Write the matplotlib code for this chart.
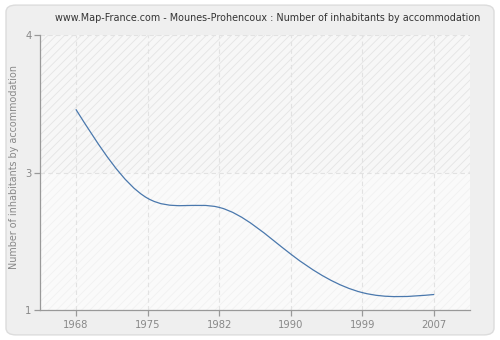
import numpy as np
import matplotlib
matplotlib.use("Agg")
import matplotlib.pyplot as plt
from matplotlib.path import Path
from matplotlib.patches import PathPatch, FancyBboxPatch

# data
years = ["1968", "1975", "1982", "1990", "1999", "2007"]
values = [3.19, 2.22, 2.12, 1.61, 1.19, 1.17]
ytick_pos = [1, 2.5, 4]
ytick_labels = ["1", "3", "4"]

title = "www.Map-France.com - Mounes-Prohencoux : Number of inhabitants by accommodation"
ylabel = "Number of inhabitants by accommodation"

plt.rcParams["hatch.linewidth"] = 0.6

fig = plt.figure(figsize=(5, 3.4), dpi=100)
fig.patch.set_facecolor("white")

# rounded grey panel behind everything
panel = FancyBboxPatch((0.012, 0.015), 0.976, 0.97, boxstyle="round,pad=0,rounding_size=0.02",
                       transform=fig.transFigure, facecolor="#efefef", edgecolor="#dcdcdc",
                       linewidth=1, zorder=-10)
fig.patches.append(panel)

ax = fig.add_axes([0.08, 0.088, 0.86, 0.809])
ax.set_facecolor("#fbfbfb")

x = np.arange(len(years))
y = np.array(values)

# hatched background, stronger above the middle grid line
ax.axhspan(ytick_pos[0], ytick_pos[1], facecolor="#fafafa", hatch="////",
           edgecolor="#f1f1f1", linewidth=0, zorder=0)
ax.axhspan(ytick_pos[1], ytick_pos[2], facecolor="#f7f7f7", hatch="////",
           edgecolor="#e4e4e4", linewidth=0, zorder=0)

# smooth line: natural cubic spline tangents, drawn as bezier segments
n = len(x)
A = np.zeros((n, n)); b = np.zeros(n)
A[0, 0], A[0, 1], b[0] = 2, 1, 3 * (y[1] - y[0])
A[-1, -2], A[-1, -1], b[-1] = 1, 2, 3 * (y[-1] - y[-2])
for i in range(1, n - 1):
    A[i, i - 1], A[i, i], A[i, i + 1] = 1, 4, 1
    b[i] = 3 * (y[i + 1] - y[i - 1])
m = np.linalg.solve(A, b)

verts = [(x[0], y[0])]
codes = [Path.MOVETO]
for i in range(n - 1):
    verts += [(x[i] + 1 / 3, y[i] + m[i] / 3),
              (x[i + 1] - 1 / 3, y[i + 1] - m[i + 1] / 3),
              (x[i + 1], y[i + 1])]
    codes += [Path.CURVE4] * 3
ax.add_patch(PathPatch(Path(verts, codes), facecolor="none", edgecolor="#4a78ad",
                       linewidth=0.9, zorder=3))

ax.set_xlim(-0.5, n - 0.5)
ax.set_ylim(1, 4)
ax.set_xticks(x)
ax.set_xticklabels(years)
ax.set_yticks(ytick_pos)
ax.set_yticklabels(ytick_labels)

ax.grid(True, color="#e2e2e2", linestyle=(0, (4, 3)), linewidth=0.8)
ax.set_axisbelow(True)

for s in ["top", "right"]:
    ax.spines[s].set_visible(False)
for s in ["left", "bottom"]:
    ax.spines[s].set_color("#999999")
    ax.spines[s].set_linewidth(0.9)

ax.tick_params(axis="both", colors="#999999", labelcolor="#888888", labelsize=7.2,
               length=4, width=0.9)
ax.tick_params(axis="y", pad=2)

fig.text(0.535, 0.947, title, ha="center", va="center", fontsize=6.9, color="#333333")
fig.text(0.028, 0.51, ylabel, rotation=90, ha="center", va="center", fontsize=6.9,
         color="#888888")

fig.savefig("out.png", dpi=100, facecolor=fig.get_facecolor())
